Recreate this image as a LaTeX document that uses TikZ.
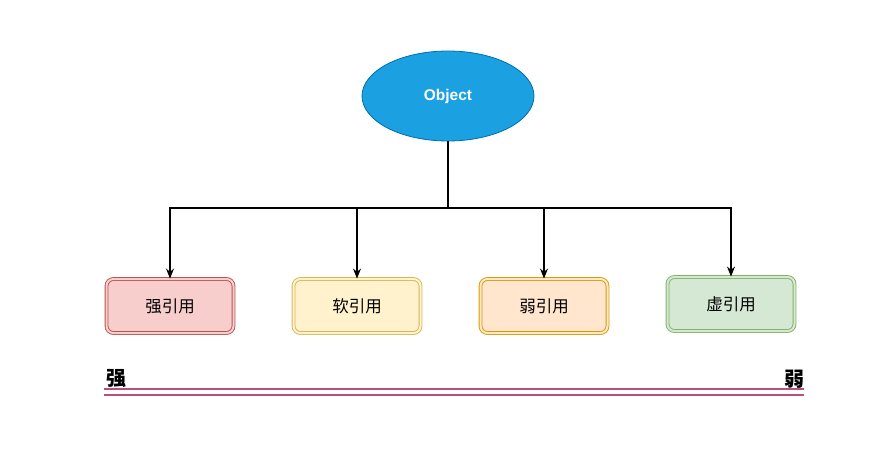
\documentclass[tikz,border=0pt]{standalone}
\usepackage{fontspec}
\setmainfont{Liberation Sans}
\newfontfamily\cjk{Noto Sans CJK SC}
\usetikzlibrary{shapes.geometric, positioning, arrows.meta}

\definecolor{objfill}{HTML}{1BA1E2}
\definecolor{objline}{HTML}{006EAF}
\definecolor{redfill}{HTML}{F8CECC}
\definecolor{redline}{HTML}{B85450}
\definecolor{yelfill}{HTML}{FFF2CC}
\definecolor{yelline}{HTML}{D6B656}
\definecolor{orafill}{HTML}{FFE6CC}
\definecolor{oraline}{HTML}{D79B00}
\definecolor{grnfill}{HTML}{D5E8D4}
\definecolor{grnline}{HTML}{82B366}
\definecolor{scaleline}{HTML}{B8507A}

\tikzset{
  ref/.style={rectangle, rounded corners=7pt, minimum width=127pt, minimum height=54pt,
    line width=0.9pt, double distance=2pt, inner sep=0pt,
    font=\cjk\fontsize{16.5}{20}\selectfont},
  strongref/.style={ref, draw=redline, double=redfill, fill=redfill},
  softref/.style={ref, draw=yelline, double=yelfill, fill=yelfill},
  weakref/.style={ref, draw=oraline, double=orafill, fill=orafill},
  phantomref/.style={ref, draw=grnline, double=grnfill, fill=grnfill},
  link/.style={-{Stealth[length=10pt,width=8pt]}, line width=1.1pt},
}

\begin{document}
\begin{tikzpicture}[x=1pt, y=-1pt, node distance=187pt, on grid]
  \useasboundingbox (0,0) rectangle (892,450);

  \node[ellipse, draw=objline, fill=objfill, line width=0.8pt, inner sep=0pt,
        minimum width=172pt, minimum height=90pt, text=white,
        font=\bfseries\fontsize{15.5}{18}\selectfont] (obj) at (448,96) {Object};

  \node[strongref] (strong) at (170,306) {强引用};
  \node[softref] (soft) [right=of strong] {软引用};
  \node[weakref] (weak) [right=of soft] {弱引用};
  \node[phantomref] (phantom) [right=of weak, yshift=2pt] {虚引用};

  \coordinate (split) at (448,208);
  \draw[link] (obj.south) -- (split) -| (strong.north);
  \draw[link] (obj.south) -- (split) -| (soft.north);
  \draw[link] (obj.south) -- (split) -| (weak.north);
  \draw[link] (obj.south) -- (split) -| (phantom.north);

  % strength scale
  \node[font=\cjk\bfseries\fontsize{20}{24}\selectfont] (most) at (116,379) {强};
  \node[font=\cjk\bfseries\fontsize{20}{24}\selectfont] (least) at (794,379) {弱};
  \coordinate (scaleL) at (104,392);
  \coordinate (scaleR) at (804,392);
  \draw[draw=scaleline, line width=1.5pt, double=white, double distance=4.5pt] (scaleL) -- (scaleR);
\end{tikzpicture}
\end{document}
